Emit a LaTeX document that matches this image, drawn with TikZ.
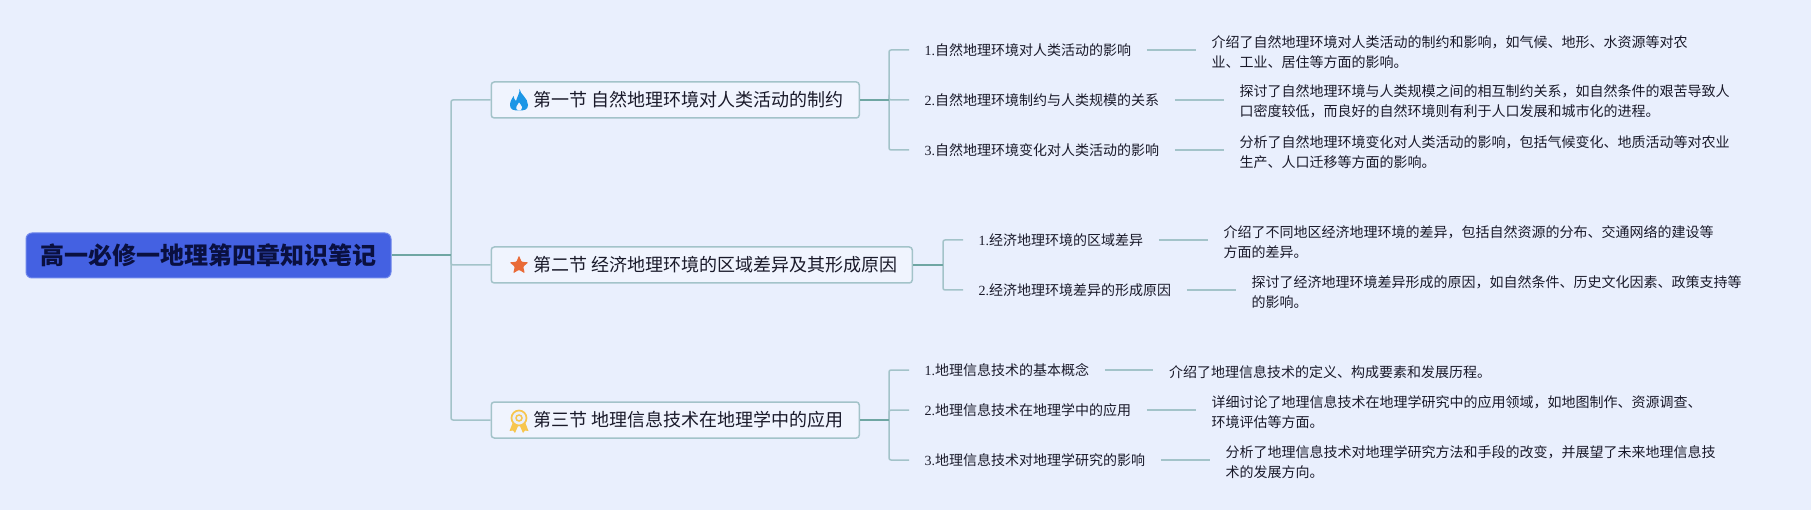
\documentclass[tikz,border=0pt]{standalone}
\usepackage{fontspec}
\setmainfont{Noto Sans CJK SC}
\newfontfamily\numf{Liberation Serif}
\definecolor{bgc}{HTML}{E9EFFD}
\definecolor{rootc}{HTML}{4461E2}
\definecolor{rootb}{HTML}{6F86EA}
\definecolor{ink}{HTML}{1A1A2A}
\definecolor{rootink}{HTML}{0A1040}
\definecolor{linec}{HTML}{A3C3C9}
\definecolor{linedk}{HTML}{6FA6A3}
\definecolor{flamec}{HTML}{1B96E6}
\definecolor{starc}{HTML}{E96B38}
\definecolor{medal}{HTML}{F7C64F}
\tikzset{
  rootbox/.style={draw=rootb,line width=1pt,fill=rootc,rounded corners=6pt,minimum width=365pt,minimum height=45pt,inner sep=0pt,text=rootink,font=\fontsize{24}{28}\selectfont\bfseries},
  secbox/.style={draw=linec,line width=1.5pt,fill=bgc!70!white,rounded corners=3pt,minimum height=36pt,inner sep=0pt,anchor=west},
  sectxt/.style={anchor=west,inner sep=0pt,text=ink,font=\fontsize{18}{22}\selectfont},
  subtxt/.style={anchor=west,inner xsep=15.5pt,inner ysep=2pt,text=ink,font=\fontsize{14}{20}\selectfont},
  desctxt/.style={anchor=west,inner xsep=16pt,inner ysep=1pt,text=ink,align=left,font=\fontsize{14}{20.5}\selectfont},
  conn/.style={draw=linec,line width=1.5pt,rounded corners=2pt},
  trunk/.style={draw=linedk,line width=2pt},
}
\begin{document}
\begin{tikzpicture}[x=1pt,y=-1pt]
\useasboundingbox[fill=bgc] (0,0) rectangle (1811,510);
\node[rootbox] (root) at (208.5,255.5) {高一必修一地理第四章知识笔记};
% sections
\node[secbox,minimum width=368pt] (s1) at (490.5,100) {};
\node[secbox,minimum width=421pt] (s2) at (490.5,265) {};
\node[secbox,minimum width=368pt] (s3) at (490.5,420) {};
\node[sectxt] (s1t) at (533,100) {第一节 自然地理环境对人类活动的制约};
\node[sectxt] (s2t) at (533,265) {第二节 经济地理环境的区域差异及其形成原因};
\node[sectxt] (s3t) at (533,420) {第三节 地理信息技术在地理学中的应用};
% icons
\fill[flamec] (519.5,89) .. controls (520,94) and (528,98) .. (528,105) .. controls (528,110) and (524,110.5) .. (519,110.5) .. controls (514,110.5) and (510,110) .. (510,105) .. controls (510,101) and (512,99) .. (513.5,96) .. controls (514,99) and (515,100) .. (516,101) .. controls (517,97) and (520,93) .. (519.5,89) -- cycle;
\fill[bgc!70!white] (519,110.5) .. controls (516.5,110.5) and (515.5,108) .. (516.5,106.5) .. controls (517.5,105) and (518.5,104) .. (519,102.5) .. controls (520,104.5) and (521.5,105) .. (522,107) .. controls (522.3,109) and (521,110.5) .. (519,110.5) -- cycle;
\fill[starc,rounded corners=1pt] (519,255.5) -- (521.6,261.8) -- (528.4,262.3) -- (523.2,266.7) -- (524.8,273.3) -- (519,269.8) -- (513.2,273.3) -- (514.8,266.7) -- (509.6,262.3) -- (516.4,261.8) -- cycle;
\fill[medal] (513,422) -- (509.5,431) -- (513,430.5) -- (515,433) -- (518.5,425) -- cycle;
\fill[medal] (525,422) -- (528.5,431) -- (525,430.5) -- (523,433) -- (519.5,425) -- cycle;
\draw[medal,line width=1.7pt,fill=bgc] (519,418) circle (7.5pt);
\draw[medal,line width=1.5pt] (519,418) circle (3pt);
% subtopics 1
\node[subtxt] (a1) at (909,50) {{\numf 1.}自然地理环境对人类活动的影响};
\node[subtxt] (a2) at (909,100) {{\numf 2.}自然地理环境制约与人类规模的关系};
\node[subtxt] (a3) at (909,150) {{\numf 3.}自然地理环境变化对人类活动的影响};
\node[desctxt] (d1) at (1195.5,52) {介绍了自然地理环境对人类活动的制约和影响，如气候、地形、水资源等对农\\业、工业、居住等方面的影响。};
\node[desctxt] (d2) at (1223.5,101.5) {探讨了自然地理环境与人类规模之间的相互制约关系，如自然条件的艰苦导致人\\口密度较低，而良好的自然环境则有利于人口发展和城市化的进程。};
\node[desctxt] (d3) at (1223.5,152) {分析了自然地理环境变化对人类活动的影响，包括气候变化、地质活动等对农业\\生产、人口迁移等方面的影响。};
% subtopics 2
\node[subtxt] (b1) at (963,240) {{\numf 1.}经济地理环境的区域差异};
\node[subtxt] (b2) at (963,290) {{\numf 2.}经济地理环境差异的形成原因};
\node[desctxt] (e1) at (1207.5,242) {介绍了不同地区经济地理环境的差异，包括自然资源的分布、交通网络的建设等\\方面的差异。};
\node[desctxt] (e2) at (1235.5,292) {探讨了经济地理环境差异形成的原因，如自然条件、历史文化因素、政策支持等\\的影响。};
% subtopics 3
\node[subtxt] (c1) at (909,370) {{\numf 1.}地理信息技术的基本概念};
\node[subtxt] (c2) at (909,410) {{\numf 2.}地理信息技术在地理学中的应用};
\node[subtxt] (c3) at (909,460) {{\numf 3.}地理信息技术对地理学研究的影响};
\node[desctxt] (f1) at (1153,372) {介绍了地理信息技术的定义、构成要素和发展历程。};
\node[desctxt] (f2) at (1195.5,412) {详细讨论了地理信息技术在地理学研究中的应用领域，如地图制作、资源调查、\\环境评估等方面。};
\node[desctxt] (f3) at (1209.5,462) {分析了地理信息技术对地理学研究方法和手段的改变，并展望了未来地理信息技\\术的发展方向。};
% connectors
\coordinate (j0) at (451,255.5);
\coordinate (j1) at (889,100);
\coordinate (j2) at (943,265);
\coordinate (j3) at (889,420);
\draw[conn] (j0) |- (s1.west);
\draw[conn] (j0) |- (s2.west);
\draw[conn] (j0) |- (s3.west);
\draw[trunk] (root.east) -- (j0);
\foreach \j/\l in {j1/a1,j1/a2,j1/a3,j2/b1,j2/b2,j3/c1,j3/c2,j3/c3}{
  \draw[conn] (\j) |- (\l.west);
}
\draw[trunk] (s1.east) -- (j1);
\draw[trunk] (s2.east) -- (j2);
\draw[trunk] (s3.east) -- (j3);
\foreach \l/\d in {a1/d1,a2/d2,a3/d3,b1/e1,b2/e2,c1/f1,c2/f2,c3/f3}{
  \draw[conn] (\l.east) -- (\d.west |- \l.east);
}
\end{tikzpicture}
\end{document}
